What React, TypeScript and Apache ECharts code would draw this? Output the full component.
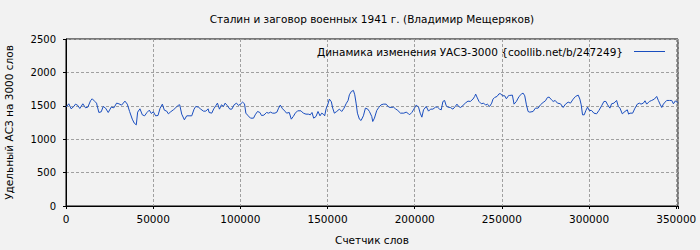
import React, { useEffect, useRef } from "react";
import * as echarts from "echarts";

const chartTitle = "Сталин и заговор военных 1941 г. (Владимир Мещеряков)";
const seriesName = "Динамика изменения УАСЗ-3000 {coollib.net/b/247249}";
const xAxisName = "Счетчик слов";
const yAxisName = "Удельный АСЗ на 3000 слов";

const xTicks = [0, 50000, 100000, 150000, 200000, 250000, 300000, 350000];
const yTicks = [0, 500, 1000, 1500, 2000, 2500];

// [word counter, UASZ-3000]
const part1: [number, number][] = [
  [0, 1480], [1610, 1530], [2950, 1455], [4480, 1490], [5440, 1525], [6780, 1505], [7930, 1460],
  [9660, 1530], [11190, 1470], [12530, 1480], [14060, 1575], [15020, 1605], [16550, 1565],
  [17510, 1540], [18850, 1400], [20200, 1410], [21340, 1490], [22690, 1465], [24220, 1400],
  [25940, 1480], [27480, 1470], [29010, 1540], [30350, 1530], [31880, 1510], [33800, 1570],
  [35140, 1525], [36480, 1415], [38010, 1300], [39160, 1240], [40310, 1215], [41080, 1405],
  [42420, 1455], [43760, 1365], [45100, 1350], [46440, 1400], [47780, 1435], [48930, 1385],
  [50080, 1410], [51420, 1350], [52770, 1355], [53920, 1460], [55260, 1525], [56410, 1435],
  [57750, 1420], [58710, 1380], [60050, 1410], [61580, 1440], [62920, 1470], [64450, 1510],
  [65220, 1515], [66370, 1375], [67900, 1290], [69240, 1350], [70580, 1350], [72120, 1350],
  [73460, 1450], [74420, 1490], [75950, 1480], [77290, 1450], [78830, 1420], [80170, 1420],
  [81510, 1455],
];
const part2: [number, number][] = [
  [82070, 1400], [83600, 1390], [84750, 1455], [85900, 1500], [86860, 1540], [88010, 1450],
  [89160, 1515], [90310, 1490], [91270, 1540], [92610, 1500], [93950, 1450], [95100, 1450],
  [96440, 1515], [97780, 1540], [98930, 1505], [100270, 1530], [101230, 1555], [102380, 1530],
  [103150, 1390], [104490, 1350], [105830, 1315], [107550, 1315], [108510, 1365], [109850, 1415],
  [111190, 1400], [112150, 1355], [113490, 1360], [115030, 1400], [116170, 1390], [117320, 1405],
  [118470, 1390], [119810, 1390], [120960, 1405], [121920, 1465], [122880, 1510], [124220, 1455],
  [125560, 1420], [126520, 1390], [128050, 1400], [129200, 1300], [130350, 1340], [131500, 1390],
  [132840, 1425], [134760, 1425], [136100, 1390], [137630, 1375], [138980, 1375], [140120, 1365],
  [141080, 1400], [142040, 1315], [143380, 1340], [144530, 1415], [145680, 1350], [146640, 1390],
  [147600, 1375], [148360, 1350], [149130, 1450], [150090, 1515], [151050, 1600], [152200, 1560],
  [152960, 1465], [153920, 1390], [155260, 1415], [156790, 1450], [158130, 1415], [159480, 1465],
  [160630, 1530], [161780, 1580], [162540, 1665], [163690, 1715], [164840, 1730], [165610, 1665],
  [166370, 1540], [167140, 1390],
];
const part3: [number, number][] = [
  [168270, 1300], [169230, 1280], [170570, 1350], [171720, 1465], [173060, 1450], [174020, 1415],
  [175360, 1340], [175930, 1265], [176890, 1315], [178230, 1430], [179380, 1475], [180720, 1515],
  [182060, 1525], [183600, 1525], [185130, 1480], [186470, 1475], [187810, 1480], [188960, 1455],
  [190300, 1430], [191840, 1390], [193750, 1390], [195090, 1405], [196050, 1390], [197010, 1365],
  [198350, 1400], [199500, 1450], [200840, 1510], [202180, 1480], [203140, 1390], [204100, 1330],
  [205060, 1440], [206590, 1490], [207930, 1420], [209080, 1450], [210420, 1450], [211950, 1480],
  [213100, 1480], [214250, 1450], [215210, 1440], [216170, 1565], [217130, 1580], [218090, 1500],
  [219040, 1480], [220390, 1475], [221920, 1450], [223260, 1490], [224220, 1525], [225180, 1490],
  [226320, 1475], [227670, 1505], [229010, 1540], [230540, 1570], [231880, 1565], [233410, 1600],
  [234370, 1640], [234950, 1675], [235710, 1630], [236860, 1565], [238200, 1530], [239540, 1540],
  [240690, 1510], [241650, 1525], [242990, 1490], [244140, 1540], [244910, 1600], [245870, 1625],
  [247210, 1640], [248360, 1680], [249320, 1680], [250280, 1650], [251610, 1650], [252570, 1605],
  [253910, 1655],
];
const part4: [number, number][] = [
  [254480, 1655], [256010, 1660], [256970, 1525], [258310, 1565], [259840, 1640], [261190, 1675],
  [262140, 1690], [263100, 1650], [264060, 1515], [265020, 1415], [265980, 1405], [267890, 1415],
  [269230, 1465], [270770, 1465], [272110, 1515], [273640, 1550], [274980, 1575], [276130, 1625],
  [277090, 1630], [278430, 1590], [279390, 1565], [280540, 1580], [281880, 1540], [283600, 1530],
  [285140, 1475], [286480, 1525], [288010, 1555], [289350, 1540], [290880, 1600], [292230, 1640],
  [293760, 1660], [294720, 1600], [295480, 1515], [296250, 1365], [297210, 1365], [298170, 1430],
  [299120, 1480], [300080, 1430], [301420, 1430], [302760, 1390], [304300, 1380], [305640, 1430],
  [307170, 1500], [308510, 1565], [309660, 1565], [310620, 1515], [311960, 1465], [312920, 1530],
  [314260, 1540], [315790, 1580], [316750, 1490], [317710, 1465], [319050, 1380], [320580, 1415],
  [321920, 1440], [322690, 1375], [323460, 1390], [324990, 1390], [326330, 1465], [327670, 1525],
  [328820, 1540], [329780, 1525], [331120, 1540], [332080, 1575], [333040, 1525], [334570, 1565],
  [335910, 1580], [337440, 1600], [338780, 1640], [339740, 1580], [340700, 1525], [341660, 1475],
  [342620, 1525], [343580, 1555], [344530, 1580], [346070, 1580], [347410, 1580], [348370, 1530],
  [349520, 1575], [350280, 1555], [350860, 1555],
];

const FONT = "DejaVu Sans";

export default function App() {
  const ref = useRef<HTMLDivElement>(null);
  useEffect(() => {
    if (!ref.current) return;
    document.body.style.margin = "0";
    const chart = echarts.init(ref.current, null, { renderer: "svg" });
    const data = [...part1, ...part2, ...part3, ...part4];
    const xMax = 351000;
    chart.setOption({
      animation: false,
      backgroundColor: "#f2f2f2",
      textStyle: { fontFamily: FONT },
      graphic: [
        {
          type: "text",
          x: 372,
          y: 19,
          style: {
            text: chartTitle,
            textAlign: "center",
            textVerticalAlign: "middle",
            fontFamily: FONT,
            fontSize: 10.5,
            fill: "#000",
          },
        },
      ],
      legend: {
        right: 35,
        top: 46,
        align: "right",
        icon: "rect",
        itemWidth: 31,
        itemHeight: 1,
        padding: 0,
        textStyle: { fontFamily: FONT, fontSize: 10.5, color: "#000", padding: [0, 6, 0, 0] },
        data: [{ name: seriesName }],
      },
      grid: {
        left: 66,
        right: 22,
        top: 39,
        bottom: 44,
        show: true,
        borderColor: "#000",
        borderWidth: 1,
        backgroundColor: "transparent",
        containLabel: false,
        outerBoundsMode: "none",
      },
      xAxis: {
        type: "value",
        min: 0,
        max: xMax,
        interval: 50000,
        name: xAxisName,
        nameLocation: "middle",
        nameGap: 28,
        nameTextStyle: { fontFamily: FONT, fontSize: 10.5, color: "#000" },
        axisLine: { show: true, lineStyle: { color: "#000", width: 1 } },
        axisTick: { show: true, length: 3, lineStyle: { color: "#000" } },
        axisLabel: {
          fontFamily: FONT,
          fontSize: 10.5,
          color: "#000",
          margin: 7,
          formatter: (v: number) => (xTicks.includes(v) ? String(v) : ""),
        },
        splitLine: { show: true, lineStyle: { color: "#a0a0a0", type: [3, 2], width: 1 } },
      },
      yAxis: {
        type: "value",
        min: yTicks[0],
        max: yTicks[yTicks.length - 1],
        interval: 500,
        name: yAxisName,
        nameLocation: "middle",
        nameGap: 52,
        nameTextStyle: { fontFamily: FONT, fontSize: 10.5, color: "#000" },
        axisLine: { show: true, lineStyle: { color: "#000", width: 1 } },
        axisTick: { show: true, length: 3, lineStyle: { color: "#000" } },
        axisLabel: {
          fontFamily: FONT,
          fontSize: 10,
          color: "#000",
          margin: 10,
          formatter: (v: number) => String(v),
        },
        splitLine: { show: true, lineStyle: { color: "#a0a0a0", type: [3, 2], width: 1 } },
      },
      series: [
        {
          name: seriesName,
          type: "line",
          data,
          symbol: "none",
          showSymbol: false,
          lineStyle: { color: "#1a4ebf", width: 1 },
          itemStyle: { color: "#1a4ebf" },
        },
      ],
    });
    return () => chart.dispose();
  }, []);
  return <div ref={ref} style={{ width: 700, height: 250 }} />;
}
